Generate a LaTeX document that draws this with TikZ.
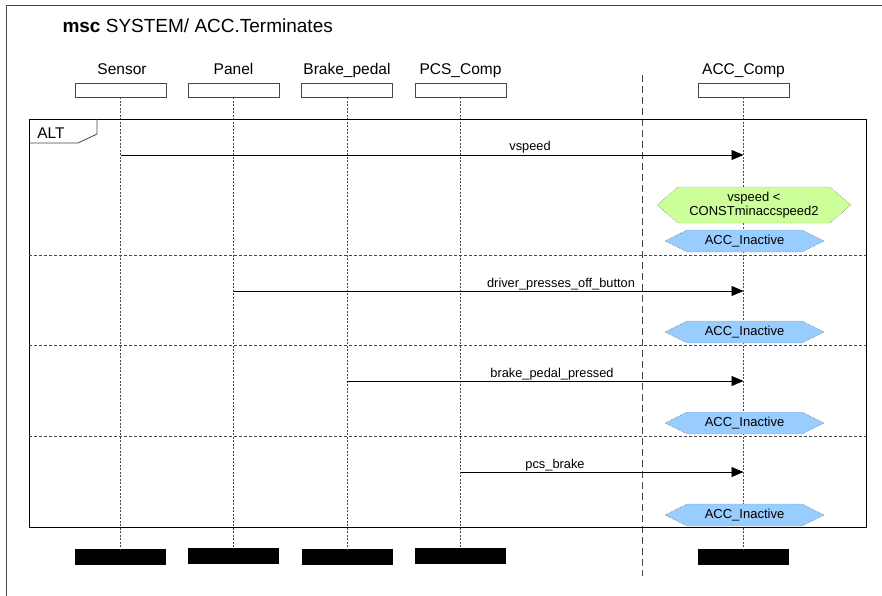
\documentclass[tikz,border=0pt]{standalone}
\usepackage{fontspec}
\setmainfont{Liberation Sans}
\usetikzlibrary{shapes.symbols,arrows.meta}
\definecolor{condgreen}{RGB}{204,255,153}
\definecolor{stateblue}{RGB}{153,204,255}
\definecolor{framegray}{RGB}{70,70,70}
\tikzset{
  head/.style={draw=framegray,fill=white,minimum width=91pt,minimum height=14pt,inner sep=0pt},
  endbar/.style={fill=black,minimum width=91pt,minimum height=16pt,inner sep=0pt},
  lname/.style={font=\fontsize{15.5}{17}\selectfont,anchor=base},
  lifeline/.style={draw=framegray,dash pattern=on 2pt off 1.5pt,line width=0.6pt},
  msg/.style={draw=black,line width=0.7pt,-{Triangle[length=12pt,width=10pt]}},
  mlabel/.style={font=\fontsize{12.8}{14}\selectfont,anchor=base},
  altsep/.style={draw=framegray,dash pattern=on 3pt off 2pt,line width=0.6pt},
  hexstate/.style={signal,signal to=west and east,draw=framegray,densely dotted,
    inner sep=0pt,font=\fontsize{13}{14.5}\selectfont,align=center},
  bluestate/.style={hexstate,fill=stateblue,minimum width=159pt,minimum height=22pt,signal pointer angle=53},
  greenstate/.style={hexstate,fill=condgreen,minimum width=194pt,minimum height=36pt,signal pointer angle=81}
}
\begin{document}
\begin{tikzpicture}[x=1pt,y=-1pt]
\useasboundingbox (0,0) rectangle (882,595);
% diagram frame (only top and left edges inside the page)
\draw[framegray,line width=0.8pt] (6,600) -- (6,5) -- (890,5);
\node[anchor=base west,font=\fontsize{19}{21}\selectfont] (title) at (59,32) {\textbf{msc} SYSTEM/ ACC.Terminates};

% instance heads
\node[head] (sH) at (120.5,90) {};
\node[head] (pH) at (233.5,90) {};
\node[head] (bH) at (347,90) {};
\node[head] (cH) at (460.5,90) {};
\node[head] (aH) at (743.5,90) {};
\node[lname] (sN) at (122,74) {Sensor};
\node[lname] (pN) at (233.5,74) {Panel};
\node[lname] (bN) at (347,74) {Brake\_pedal};
\node[lname] (cN) at (460.5,74) {PCS\_Comp};
\node[lname] (aN) at (743.5,74) {ACC\_Comp};

% instance ends
\node[endbar] (sE) at (120.5,557) {};
\node[endbar] (pE) at (233.5,556) {};
\node[endbar] (bE) at (347,557) {};
\node[endbar] (cE) at (460.5,556) {};
\node[endbar] (aE) at (743.5,557) {};

% environment separator
\coordinate (envT) at (642,75);
\coordinate (envB) at (642,576);
\draw[framegray,dash pattern=on 7pt off 4pt,line width=0.7pt] (envT) -- (envB);

% lifelines
\foreach \n in {s,p,b,c,a} \draw[lifeline] (\n H.south) -- (\n E.north);

% ALT inline expression
\coordinate (altNW) at (29,119);
\coordinate (altSE) at (866,527);
\draw[black,line width=0.8pt] (altNW) rectangle (altSE);
\draw[framegray,line width=0.8pt] (29,143) -- (78,143) -- (97,134) -- (97,119);
\node[anchor=base,font=\fontsize{15.5}{17}\selectfont] (altL) at (51,138) {ALT};
\coordinate (sep1L) at (29,255); \coordinate (sep1R) at (866,255);
\coordinate (sep2L) at (29,345); \coordinate (sep2R) at (866,345);
\coordinate (sep3L) at (29,436); \coordinate (sep3R) at (866,436);
\draw[altsep] (sep1L) -- (sep1R);
\draw[altsep] (sep2L) -- (sep2R);
\draw[altsep] (sep3L) -- (sep3R);

% messages
\coordinate (m1a) at (sH.center |- 0,155); \coordinate (m1b) at (aH.center |- 0,155);
\coordinate (m2a) at (pH.center |- 0,291); \coordinate (m2b) at (aH.center |- 0,291);
\coordinate (m3a) at (bH.center |- 0,381); \coordinate (m3b) at (aH.center |- 0,381);
\coordinate (m4a) at (cH.center |- 0,472); \coordinate (m4b) at (aH.center |- 0,472);
\draw[msg] (m1a) -- (m1b);
\draw[msg] (m2a) -- (m2b);
\draw[msg] (m3a) -- (m3b);
\draw[msg] (m4a) -- (m4b);
\node[mlabel] (l1) at (530,150) {vspeed};
\node[mlabel] (l2) at (561,287) {driver\_presses\_off\_button};
\node[mlabel] (l3) at (552,377) {brake\_pedal\_pressed};
\node[mlabel] (l4) at (555,468) {pcs\_brake};

% conditions and states
\node[greenstate] (cond) at (754,205) {vspeed <\\CONSTminaccspeed2};
\node[bluestate] (st1) at (744.5,241) {ACC\_Inactive};
\node[bluestate] (st2) at (744.5,332) {ACC\_Inactive};
\node[bluestate] (st3) at (744.5,423) {ACC\_Inactive};
\node[bluestate] (st4) at (744.5,515) {ACC\_Inactive};
\end{tikzpicture}
\end{document}
